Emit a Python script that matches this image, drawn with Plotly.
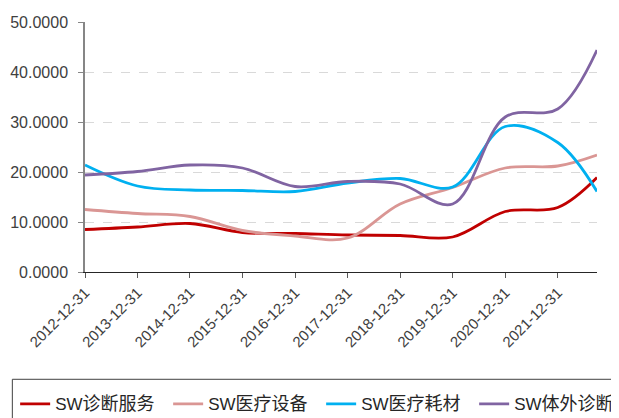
import plotly.graph_objects as go

dates = ["2012-12-31", "2013-12-31", "2014-12-31", "2015-12-31", "2016-12-31",
         "2017-12-31", "2018-12-31", "2019-12-31", "2020-12-31", "2021-12-31",
         "2022-09-30"]
tick_dates = dates[:10]
tick_labels = tick_dates

diag_service = [8.5, 9.0, 9.7, 7.9, 7.7, 7.4, 7.3, 7.0, 12.1, 12.9, 18.9]
med_equipment = [12.5, 11.7, 11.1, 8.3, 7.2, 6.8, 13.6, 16.9, 20.8, 21.2, 23.4]
med_consumables = [21.4, 17.2, 16.4, 16.3, 16.1, 17.8, 18.7, 17.0, 29.1, 25.9, 16.1]
ivd = [19.4, 20.1, 21.4, 20.8, 17.1, 18.1, 17.6, 13.6, 31.0, 32.6, 44.4]

series_names = ["SW诊断服务", "SW医疗设备", "SW医疗耗材", "SW体外诊断"]
series_values = [diag_service, med_equipment, med_consumables, ivd]
colors = ["#C00000", "#DA9694", "#00B0F0", "#8064A2"]

LAT = "Liberation Sans, Arial, sans-serif"
CJK = "Noto Sans CJK SC"

fig = go.Figure()
for name, vals, c in zip(series_names, series_values, colors):
    label = ("SW<span style='font-family:" + CJK + ";font-size:18px'>"
             + name[2:] + "</span>")
    fig.add_trace(go.Scatter(
        x=dates, y=vals, name=label, mode="lines",
        line=dict(color=c, width=2.8, shape="spline", smoothing=1),
    ))

# page body has an 8px margin: work in figure coordinates (window - 8).
# The figure is made larger than the window so the legend frame runs off the
# right/bottom edges as in the reference.
OFF = 8
W, H = 720, 440
L = 84.5 - OFF
T = 22 - OFF
PW, PH = 513, 250.5
R = W - L - PW
B = H - T - PH

ENTRY = 108                      # text width slot of each legend entry
ITEM = 40 + ENTRY + 5            # symbol + text + gap
legend_w = 4 * ITEM              # total legend width
legend_left = 20.7 - OFF - 5     # figure px of the legend's left edge
legend_right_paper = (legend_left + legend_w - L) / PW

fig.update_layout(
    width=W, height=H,
    margin=dict(l=L, r=R, t=T, b=B, autoexpand=False),
    paper_bgcolor="white", plot_bgcolor="white",
    font=dict(family=LAT, color="#404040"),
    showlegend=True,
    legend=dict(
        orientation="h", xref="paper", yref="paper",
        x=legend_right_paper, y=(T + PH - 379) / PH,
        xanchor="right", yanchor="top",
        font=dict(family=LAT, size=17, color="#262626"),
        entrywidth=ENTRY, entrywidthmode="pixels",
        bgcolor="rgba(0,0,0,0)", borderwidth=0,
        itemclick=False,
    ),
    xaxis=dict(
        type="date", range=[dates[0], dates[-1]],
        tickvals=tick_dates, ticktext=tick_labels, tickangle=-45,
        tickfont=dict(family=LAT, size=15, color="#404040"),
        showline=True, linecolor="#262626", linewidth=1.3,
        ticks="outside", ticklen=5, tickcolor="#595959", tickwidth=1,
        showgrid=False, zeroline=False, automargin=False,
    ),
    yaxis=dict(
        range=[0, 50], dtick=10, tick0=0, tickformat=".4f",
        tickfont=dict(family=LAT, size=16, color="#404040"),
        showline=True, linecolor="#868686", linewidth=1.5,
        ticks="outside", ticklen=5, tickcolor="#868686",
        showgrid=True, gridcolor="#D9D9D9", griddash="dash", gridwidth=1,
        zeroline=False, automargin=False, ticklabelstandoff=7,
    ),
)

# legend frame (extends past the bottom/right edges like the reference)
x0p = (11.7 - OFF - L) / PW
y0p = (T + PH - (380 - OFF)) / PH
fig.add_shape(type="rect", xref="paper", yref="paper",
              x0=x0p, x1=1.4, y0=-1.0, y1=y0p,
              line=dict(color="#404040", width=1), fillcolor="rgba(0,0,0,0)")

fig.write_html("out.html")
